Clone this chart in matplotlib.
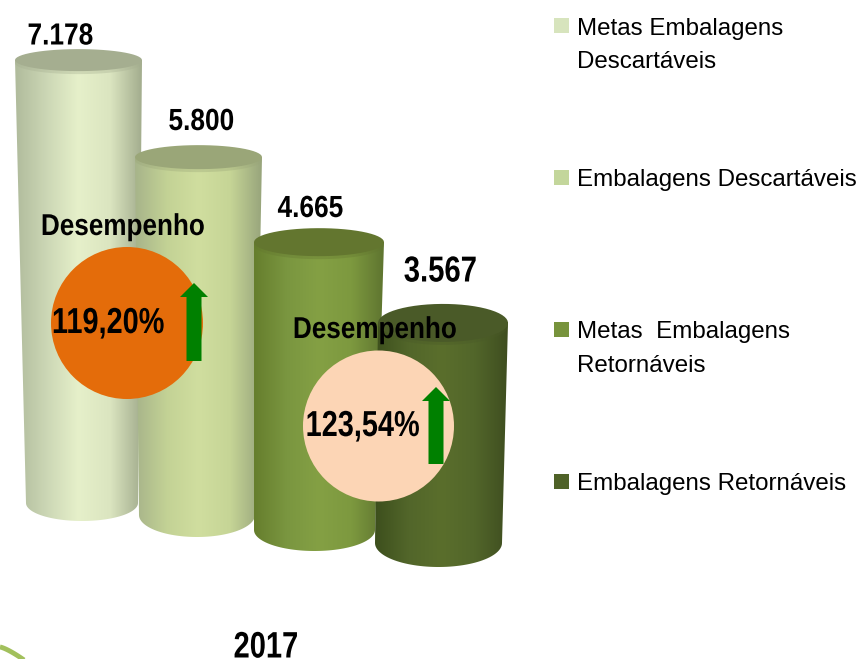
import numpy as np
import matplotlib
matplotlib.use('Agg')
import matplotlib.pyplot as plt
from matplotlib.colors import to_rgb
from matplotlib.patches import Circle, Polygon, Rectangle
from matplotlib.patheffects import AbstractPathEffect
from matplotlib.transforms import Affine2D

# data
values = [7178, 5800, 4665, 3567]
value_labels = ['7.178', '5.800', '4.665', '3.567']
legend_lines = [['Metas Embalagens', 'Descartáveis'], ['Embalagens Descartáveis'],
                ['Metas  Embalagens', 'Retornáveis'], ['Embalagens Retornáveis']]
perf_title = 'Desempenho'
perf_labels = ['119,20%', '123,54%']
year = '2017'

# layout, in pixels of the picture
px_per_unit = 0.0617
base_y = [503, 515, 530, 543]
top_x = [(15, 142), (135, 262), (254, 384), (378, 508)]
bot_x = [(26, 138), (139, 255), (254, 375), (375, 502)]
top_hh = [11, 12, 14, 19]
bot_hh = [18, 22, 21, 24]
label_x = [60.5, 201.5, 310.5, 440.5]
label_base = [44.5, 130, 217, 281.5]
label_size = [22, 22, 22, 26]
label_sx = [0.86, 0.86, 0.86, 0.81]
side_cols = [['#b0bb9c', '#ccd7b5', '#e6f0ca', '#dbe5c0', '#a3ad8e'],
             ['#a7b48a', '#c3d295', '#d0de9f', '#c6d596', '#98a57c'],
             ['#667e2d', '#7a9640', '#84a044', '#7d993f', '#5f7530'],
             ['#3d4f1d', '#52662a', '#5a6e2c', '#52662a', '#3f4e20']]
top_cols = ['#a5ae90', '#9aa678', '#63762f', '#4a5a28']
leg_cols = ['#d7e4bd', '#c3d69b', '#77933c', '#4f6228']
leg_y = [18, 170, 322, 474]
leg_base = [[35, 68], [186], [338, 372], [490]]


class Squeeze(AbstractPathEffect):
    # no narrow font here, so the glyphs get pinched around their middle
    def __init__(self, sx):
        super().__init__()
        self.sx = sx

    def draw_path(self, renderer, gc, tpath, affine, rgbFace=None):
        ext = tpath.get_extents()
        cx = (ext.x0 + ext.x1) / 2
        pinch = Affine2D().translate(-cx, 0).scale(self.sx, 1).translate(cx, 0)
        renderer.draw_path(gc, tpath, pinch + affine, rgbFace)


plt.rcParams['font.family'] = ['Liberation Sans', 'DejaVu Sans']


def gradient(cols):
    rgb = np.array([to_rgb(c) for c in cols])
    xs = np.linspace(0, 1, 200)
    pos = np.linspace(0, 1, len(cols))
    row = np.stack([np.interp(xs, pos, rgb[:, i]) for i in range(3)], axis=1)
    return np.repeat(row[np.newaxis, :, :], 2, axis=0)


def arc(x0, x1, y, hh, start, stop):
    t = np.linspace(start, stop, 60)
    xc, rx = (x0 + x1) / 2, (x1 - x0) / 2
    return np.column_stack([xc + rx * np.cos(t), y + hh * np.sin(t)])


def bold(x, y, s, size, sx):
    ax.text(x, y, s, fontsize=size, fontweight='bold', ha='center', va='baseline',
            zorder=10, path_effects=[Squeeze(sx)])


fig = plt.figure(figsize=(8.57, 6.59), dpi=100)
ax = fig.add_axes([0, 0, 1, 1])

for i, v in enumerate(values):
    y_top = base_y[i] - v * px_per_unit
    low = arc(bot_x[i][0], bot_x[i][1], base_y[i], bot_hh[i], np.pi, 0)
    up = arc(top_x[i][0], top_x[i][1], y_top, top_hh[i], 0, -np.pi)
    side = Polygon(np.vstack([low, up]), closed=True, fc='none', ec='none')
    ax.add_patch(side)
    im = ax.imshow(gradient(side_cols[i]), aspect='auto', zorder=1 + i, interpolation='bilinear',
                   extent=(min(top_x[i][0], bot_x[i][0]), top_x[i][1], base_y[i] + bot_hh[i], y_top))
    im.set_clip_path(side)
    # top, with a soft fringe under it
    ell = arc(top_x[i][0], top_x[i][1], y_top, top_hh[i], 0, 2 * np.pi)
    ax.add_patch(Polygon(ell + [0, 3], closed=True, fc=top_cols[i], ec='none', alpha=0.35, zorder=1 + i))
    ax.add_patch(Polygon(ell, closed=True, fc=top_cols[i], ec='none', zorder=1 + i))
    bold(label_x[i], label_base[i], value_labels[i], label_size[i], label_sx[i])

# performance bubbles
ax.add_patch(Circle((127, 323), 76, fc='#e46c0a', ec='none', zorder=6))
ax.add_patch(Circle((378.5, 426), 75.5, fc='#fcd5b5', ec='none', zorder=6))
bold(122.5, 235, perf_title, 21.7, 0.866)
bold(374.5, 338, perf_title, 21.7, 0.866)
bold(108, 333, perf_labels[0], 26, 0.80)
bold(362.5, 436, perf_labels[1], 26, 0.80)

# arrows
for cx, tip, bottom in [(194, 283, 361), (436, 387, 464)]:
    shape = [(cx, tip), (cx + 14, tip + 14), (cx + 7.5, tip + 14), (cx + 7.5, bottom),
             (cx - 7.5, bottom), (cx - 7.5, tip + 14), (cx - 14, tip + 14)]
    ax.add_patch(Polygon(shape, closed=True, fc='#008000', ec='none', zorder=11))

# legend
for i, lines in enumerate(legend_lines):
    ax.add_patch(Rectangle((554, leg_y[i]), 15, 15, fc=leg_cols[i], ec='none', zorder=5))
    for j, line in enumerate(lines):
        ax.text(577, leg_base[i][j], line, fontsize=17.4, ha='left', va='baseline')

bold(266, 657.5, year, 26.5, 0.79)

# corner arc
t = np.linspace(0, 1, 30)
ax.plot(t * 24, 647 + 13 * t ** 1.3, color='#a2c05c', lw=3.5, solid_capstyle='butt')

ax.set_xlim(0, 857)
ax.set_ylim(659, 0)
ax.axis('off')
fig.savefig('out.png', dpi=100)
